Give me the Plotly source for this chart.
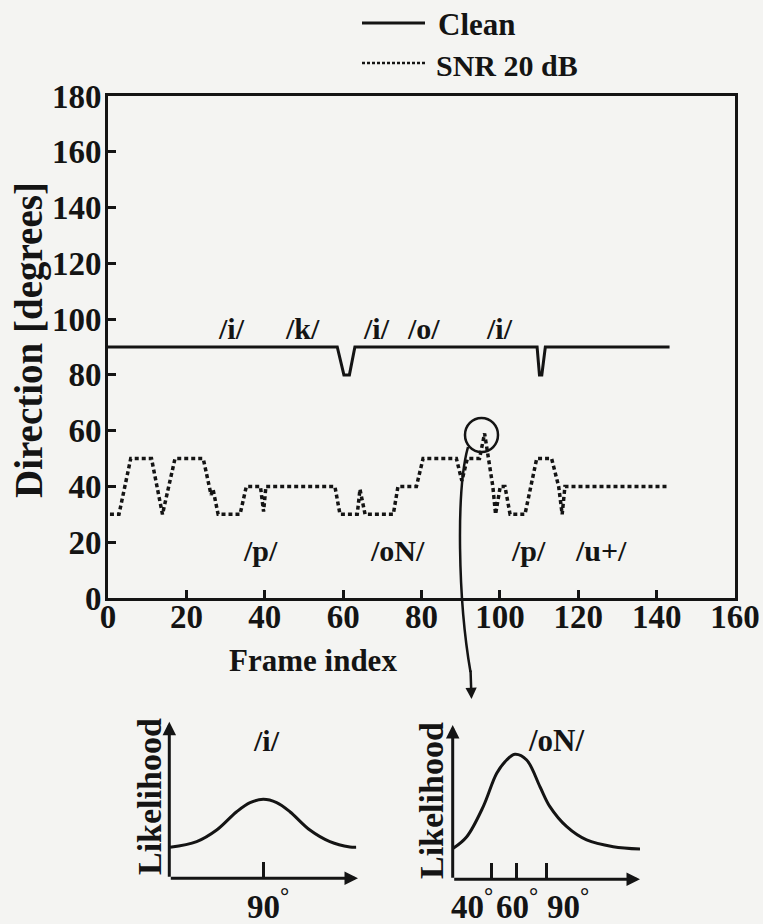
import plotly.graph_objects as go

W, H = 763, 924
INK = "#141414"
BG = "#f4f4f2"
FONT = "Liberation Serif"

# ---------------- data ----------------
clean_frames = [0, 58.5, 60.2, 61.6, 63.0, 109.5, 110.1, 110.7, 111.6, 143.3]
clean_deg = [90, 90, 80, 80, 90, 90, 80, 80, 90, 90]

snr_frames = [0.5, 2.8, 5.8, 11.1, 13.9, 17.1, 24.3, 25.8, 26.3, 26.8, 28.1,
              33.7, 35.3, 38.9, 39.7, 40.3, 57.9, 59.2, 63.6, 64.3, 65.6,
              72.8, 74.0, 78.7, 80.4, 88.9, 90.3, 91.7, 94.8, 96.1, 98.2,
              98.9, 100.1, 101.3, 102.6, 106.4, 109.4, 113.2, 115.0, 115.9,
              116.6, 142.9]
snr_deg = [30, 30, 50, 50, 30, 50, 50, 40, 37, 39, 30,
           30, 40, 40, 31, 40, 40, 30, 30, 39, 30,
           30, 40, 40, 50, 50, 42, 50, 50, 59, 40,
           30, 40, 40, 30, 30, 50, 50, 40, 30,
           40, 40]

x_ticks = [0, 20, 40, 60, 80, 100, 120, 140, 160]
y_ticks = [0, 20, 40, 60, 80, 100, 120, 140, 160, 180]

top_labels = ["/i/", "/k/", "/i/", "/o/", "/i/"]
top_label_frames = [31.6, 49.6, 68.6, 80.4, 100.0]
top_label_deg = 96.5
bottom_labels = ["/p/", "/oN/", "/p/", "/u+/"]
bottom_label_frames = [38.8, 74.0, 107.2, 125.8]
bottom_label_deg = 17

# inset likelihood curves (normalised axes 0..1)
lik_i_x = [0.004, 0.145, 0.251, 0.357, 0.428, 0.498, 0.569, 0.639, 0.745, 0.851, 0.957, 0.99]
lik_i_y = [0.198, 0.234, 0.308, 0.425, 0.483, 0.504, 0.483, 0.425, 0.308, 0.234, 0.200, 0.198]
lik_i_ticks = [0.498]
lik_i_tick_text = ["90"]

lik_oN_x = [0.003, 0.075, 0.163, 0.235, 0.288, 0.333, 0.395, 0.466, 0.519, 0.609, 0.715, 0.857, 1.0]
lik_oN_y = [0.201, 0.276, 0.471, 0.687, 0.773, 0.810, 0.773, 0.600, 0.471, 0.341, 0.255, 0.211, 0.196]
lik_oN_ticks = [0.208, 0.342, 0.502]
lik_oN_tick_text = ["40", "60", "90"]
lik_oN_text_x = [0.076, 0.317, 0.589]


def px(x):
    return x / W


def py(y):
    return 1 - y / H


fig = go.Figure()

fig.add_trace(go.Scatter(x=clean_frames, y=clean_deg, mode="lines", name="Clean",
                         line=dict(color=INK, width=3), showlegend=False,
                         xaxis="x", yaxis="y"))
fig.add_trace(go.Scatter(x=snr_frames, y=snr_deg, mode="lines", name="SNR 20 dB",
                         line=dict(color=INK, width=3.5, dash="4px,3px"),
                         showlegend=False, xaxis="x", yaxis="y"))

fig.add_trace(go.Scatter(x=lik_i_x, y=lik_i_y, mode="lines", line_shape="spline",
                         line=dict(color=INK, width=3), showlegend=False,
                         xaxis="x2", yaxis="y2"))
fig.add_trace(go.Scatter(x=lik_oN_x, y=lik_oN_y, mode="lines", line_shape="spline",
                         line=dict(color=INK, width=3), showlegend=False,
                         xaxis="x3", yaxis="y3"))

bold = dict(family=FONT, color=INK, weight="bold")

main_axis = dict(showline=True, linewidth=3, linecolor=INK, mirror=True,
                 ticks="inside", ticklen=8, tickwidth=2.5, tickcolor=INK,
                 showgrid=False, zeroline=False, automargin=False,
                 tickfont=dict(size=33, **bold))

inset_axis = dict(range=[0, 1], showline=False, showgrid=False, zeroline=False,
                  showticklabels=False, automargin=False, fixedrange=True)

fig.update_layout(
    width=W, height=H,
    margin=dict(l=0, r=0, t=0, b=0),
    template="none",
    paper_bgcolor=BG, plot_bgcolor=BG,
    showlegend=False,
    xaxis=dict(domain=[px(108), px(735)], range=[0, 160], tickvals=x_ticks,
               ticklabelstandoff=-13, anchor="y", **main_axis),
    yaxis=dict(domain=[py(598), py(96)], range=[0, 180], tickvals=y_ticks,
               ticklabelstandoff=-3, anchor="x", **main_axis),
    xaxis2=dict(domain=[px(169.3), px(358)], anchor="y2", tickvals=lik_i_ticks,
                ticks="inside", ticklen=16, tickwidth=3, tickcolor=INK, **inset_axis),
    yaxis2=dict(domain=[py(878.3), py(721.7)], anchor="x2", **inset_axis),
    xaxis3=dict(domain=[px(452.7), px(640)], anchor="y3", tickvals=lik_oN_ticks,
                ticks="inside", ticklen=16, tickwidth=3, tickcolor=INK, **inset_axis),
    yaxis3=dict(domain=[py(879.3), py(725)], anchor="x3", **inset_axis),
)

C = dict(xanchor="center", yanchor="middle", showarrow=False)

ann = []
for t, f in zip(top_labels, top_label_frames):
    ann.append(dict(x=f, y=top_label_deg, xref="x", yref="y", text=t,
                    font=dict(size=30, **bold), **C))
for t, f in zip(bottom_labels, bottom_label_frames):
    ann.append(dict(x=f, y=bottom_label_deg, xref="x", yref="y", text=t,
                    font=dict(size=30, **bold), **C))

# axis titles
ann.append(dict(x=px(313), y=py(660), xref="paper", yref="paper", text="Frame index",
                font=dict(size=31, **bold), **C))
ann.append(dict(x=px(29), y=py(340), xref="paper", yref="paper", text="Direction [degrees]",
                textangle=-90, font=dict(size=39, **bold), **C))

# legend
ann.append(dict(x=px(436), y=py(25), xref="paper", yref="paper", text="Clean",
                xanchor="left", yanchor="middle", showarrow=False, font=dict(size=31, **bold)))
ann.append(dict(x=px(434), y=py(65), xref="paper", yref="paper", text="SNR 20 dB",
                xanchor="left", yanchor="middle", showarrow=False, font=dict(size=30, **bold)))

# inset axis arrows
for xa, ya in (("x2", "y2"), ("x3", "y3")):
    ann.append(dict(x=1, y=0, ax=0, ay=0, xref=xa, yref=ya, axref=xa, ayref=ya, text="",
                    showarrow=True, arrowhead=2, arrowsize=0.9, arrowwidth=3, arrowcolor=INK))
    ann.append(dict(x=0, y=1, ax=0, ay=0, xref=xa, yref=ya, axref=xa, ayref=ya, text="",
                    showarrow=True, arrowhead=2, arrowsize=0.9, arrowwidth=3, arrowcolor=INK))

# inset texts
ann.append(dict(x=px(266), y=py(740), xref="paper", yref="paper", text="/i/",
                font=dict(size=30, **bold), **C))
ann.append(dict(x=px(556), y=py(740), xref="paper", yref="paper", text="/oN/",
                font=dict(size=31, **bold), **C))
ann.append(dict(x=px(149), y=py(797), xref="paper", yref="paper", text="Likelihood",
                textangle=-90, font=dict(size=34, **bold), **C))
ann.append(dict(x=px(431), y=py(800), xref="paper", yref="paper", text="Likelihood",
                textangle=-90, font=dict(size=34, **bold), **C))
for t, tx in zip(lik_i_tick_text, lik_i_ticks):
    ann.append(dict(x=tx, y=py(904), xref="x2", yref="paper", text=f"{t}<sup>°</sup>",
                    xshift=5, font=dict(size=33, **bold), **C))
for t, tx in zip(lik_oN_tick_text, lik_oN_text_x):
    ann.append(dict(x=tx, y=py(904), xref="x3", yref="paper", text=f"{t}<sup>°</sup>",
                    xshift=5, font=dict(size=33, **bold), **C))

# arrow head of the pointer from the circled frame to the /oN/ inset
ann.append(dict(x=px(471.5), y=py(699), xref="paper", yref="paper", ax=-1, ay=-30,
                text="", showarrow=True, arrowhead=2, arrowsize=0.9, arrowwidth=2.5,
                arrowcolor=INK))

fig.update_layout(annotations=ann)

shapes = [
    # legend samples
    dict(type="line", xref="paper", yref="paper", x0=px(362), x1=px(425), y0=py(23), y1=py(23),
         line=dict(color=INK, width=3)),
    dict(type="line", xref="paper", yref="paper", x0=px(362), x1=px(425), y0=py(63), y1=py(63),
         line=dict(color=INK, width=2.5, dash="3px,2px")),
    # circle marking the frame
    dict(type="circle", xref="paper", yref="paper", x0=px(465), x1=px(498), y0=py(452), y1=py(418),
         line=dict(color=INK, width=2.5)),
    # curved pointer
    dict(type="path", xref="paper", yref="paper",
         path=(f"M {px(468)},{py(447)} C {px(456)},{py(490)} {px(458)},{py(600)} "
               f"{px(470.5)},{py(672)}"),
         line=dict(color=INK, width=2.5)),
]
fig.update_layout(shapes=shapes)

fig.write_html("out.html")
